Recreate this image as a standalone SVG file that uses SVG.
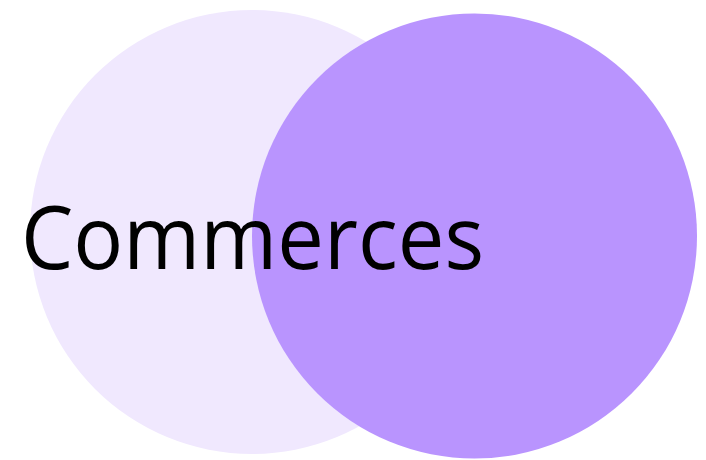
<svg xmlns="http://www.w3.org/2000/svg" width="706" height="460" viewBox="0 0 706 460">
<style>
.lbl{font-family:"Open Sans","Noto Sans",sans-serif;fill:#000;}
</style>
<rect width="706" height="460" fill="#fff"/>
<g id="circle-left"><circle cx="252" cy="232" r="222" fill="#F0E8FE"/></g>
<g id="circle-right"><circle cx="474.5" cy="236" r="222.5" fill="#B994FE"/></g>
<g id="label"><text class="lbl" x="21" y="269" font-size="87" textLength="463" lengthAdjust="spacingAndGlyphs">Commerces</text></g>
</svg>
